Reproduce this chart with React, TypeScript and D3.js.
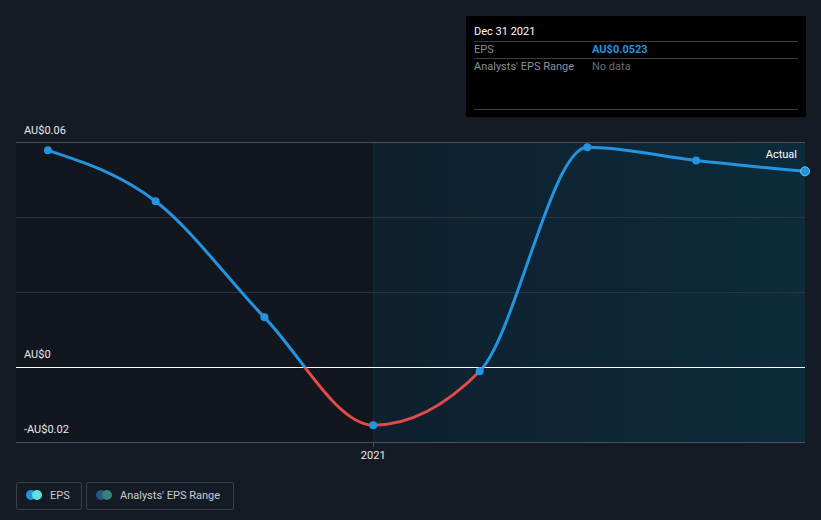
import React from "react";
import * as d3 from "d3";

const dates = ["2020-03-31", "2020-06-30", "2020-09-30", "2020-12-31", "2021-03-31", "2021-06-30", "2021-09-30", "2021-12-31"];
const eps = [0.0579, 0.0443, 0.0133, -0.0155, -0.0011, 0.0587, 0.0552, 0.0523];
const yTicks = [0.06, 0.04, 0.02, 0, -0.02];
const yLabels = [
  { v: 0.06, t: "AU$0.06" },
  { v: 0, t: "AU$0" },
  { v: -0.02, t: "-AU$0.02" },
];

const W = 821;
const H = 520;
const BG = "#151b25";
const BLUE = "#2394df";
const RED = "#e24b4b";

export default function App() {
  const parse = d3.timeParse("%Y-%m-%d");
  const data = dates.map((d, i) => ({ date: parse(d) as Date, v: eps[i] }));
  const x = d3.scaleTime().domain([new Date(2020, 2, 4), new Date(2021, 11, 31)]).range([16, 805]);
  const y = d3.scaleLinear().domain([-0.02, 0.06]).range([442, 142.5]);
  const split = x(new Date(2020, 11, 31));
  const line = d3
    .line<{ date: Date; v: number }>()
    .x((d) => x(d.date))
    .y((d) => y(d.v))
    .curve(d3.curveMonotoneX);
  const path = line(data) || "";
  const font = "Roboto, 'Open Sans', sans-serif";
  const last = data[data.length - 1];
  const crisp = (v: number) => Math.floor(v) + 0.5;

  return (
    <svg width={W} height={H} style={{ position: "absolute", left: 0, top: 0, background: BG, fontFamily: font }}>
      <defs>
        <linearGradient id="fc" x1="0" x2="1" y1="0" y2="0">
          <stop offset="0" stopColor="#0f202e" />
          <stop offset="1" stopColor="#0c2b3b" />
        </linearGradient>
        <clipPath id="above">
          <rect x={0} y={0} width={W} height={y(0)} />
        </clipPath>
        <clipPath id="below">
          <rect x={0} y={y(0)} width={W} height={H - y(0)} />
        </clipPath>
      </defs>
      <rect x={0} y={0} width={W} height={H} fill={BG} />
      <rect x={16} y={y(0.06)} width={split - 16} height={y(-0.02) - y(0.06)} fill="#12161e" />
      <rect x={split} y={y(0.06)} width={805 - split} height={y(-0.02) - y(0.06)} fill="url(#fc)" />
      <line x1={crisp(split)} x2={crisp(split)} y1={y(0.06)} y2={y(-0.02)} stroke="#1c2631" strokeWidth={1} />
      {yTicks.map((t) => (
        <line
          key={t}
          x1={16}
          x2={805}
          y1={crisp(y(t))}
          y2={crisp(y(t))}
          stroke={t === 0 ? "#ffffff" : t === 0.06 || t === -0.02 ? "#4b525b" : "#2b333d"}
          strokeWidth={1}
        />
      ))}
      {yLabels.map((l) => (
        <text key={l.t} x={24} y={y(l.v) - 9} fill="#e8eaed" fontSize={11}>
          {l.t}
        </text>
      ))}
      <line x1={crisp(split)} x2={crisp(split)} y1={y(-0.02)} y2={y(-0.02) + 5} stroke="#4b525b" />
      <text x={split} y={459} fill="#e8eaed" fontSize={11} textAnchor="middle">
        2021
      </text>
      <path d={path} fill="none" stroke={BLUE} strokeWidth={3} clipPath="url(#above)" />
      <path d={path} fill="none" stroke={RED} strokeWidth={3} clipPath="url(#below)" />
      {data.map((d, i) => (
        <circle key={i} cx={x(d.date)} cy={y(d.v)} r={i === data.length - 1 ? 4.5 : 4} fill={BLUE} stroke={i === data.length - 1 ? "#7fc4f0" : "none"} strokeWidth={1} />
      ))}
      <text x={797} y={158} fill="#ffffff" fontSize={11} textAnchor="end">
        Actual
      </text>

      <g>
        <rect x={466} y={16} width={340} height={101} fill="#000000" />
        <text x={474} y={35} fill="#ffffff" fontSize={11}>
          Dec 31 2021
        </text>
        <line x1={474} x2={798} y1={41.5} y2={41.5} stroke="#3a3d42" />
        <text x={474} y={53} fill="#8a8f96" fontSize={11}>EPS</text>
        <text x={592} y={53} fill={BLUE} fontSize={11} fontWeight="bold">
          AU${last.v}
        </text>
        <line x1={474} x2={798} y1={58.5} y2={58.5} stroke="#3a3d42" />
        <text x={474} y={70} fill="#8a8f96" fontSize={11}>Analysts' EPS Range</text>
        <text x={592} y={70} fill="#6a6e74" fontSize={11}>No data</text>
        <line x1={474} x2={798} y1={109.5} y2={109.5} stroke="#3a3d42" />
      </g>

      <g>
        <rect x={16.5} y={482.5} width={65} height={27} rx={2} fill="none" stroke="#3a414b" />
        <circle cx={31} cy={495} r={5} fill={BLUE} />
        <circle cx={37} cy={495} r={5} fill="#5fe3d6" />
        <text x={50} y={499} fill="#c9ccd1" fontSize={11}>EPS</text>
        <rect x={86.5} y={482.5} width={147} height={27} rx={2} fill="none" stroke="#3a414b" />
        <circle cx={101} cy={495} r={5} fill="#1f5a85" />
        <circle cx={107} cy={495} r={5} fill="#3d7f80" />
        <text x={120} y={499} fill="#c9ccd1" fontSize={11}>Analysts' EPS Range</text>
      </g>
    </svg>
  );
}
